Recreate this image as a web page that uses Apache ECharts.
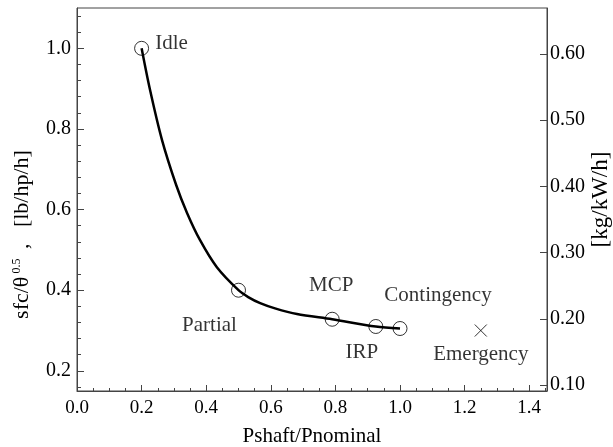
<!DOCTYPE html>
<html>
<head>
<meta charset="utf-8">
<script src="https://cdn.jsdelivr.net/npm/echarts@6/dist/echarts.min.js"></script>
<style>
  html, body { margin: 0; padding: 0; background: #fff; }
  #chart { width: 613px; height: 447px; }
</style>
</head>
<body>
<div id="chart"></div>
<script>
// Specific fuel consumption versus shaft power ratio
const curveX = [0.2, 0.226, 0.263, 0.307, 0.341, 0.381, 0.433, 0.5, 0.53, 0.567, 0.613, 0.681, 0.79, 0.925, 1.0];
const curveY = [1.0, 0.897, 0.773, 0.661, 0.591, 0.524, 0.457, 0.40, 0.383, 0.368, 0.355, 0.341, 0.328, 0.31, 0.305];

const ratingNames = ['Idle', 'Partial', 'MCP', 'IRP', 'Contingency'];
const ratingX = [0.2, 0.5, 0.79, 0.925, 1.0];
const ratingY = [1.0, 0.40, 0.328, 0.31, 0.305];

const emergencyName = 'Emergency';
const emergencyX = [1.25];
const emergencyY = [0.30];

// tick values
const leftTicks = [0.2, 0.4, 0.6, 0.8, 1.0];
const leftMinorTicks = [0.16, 0.24, 0.28, 0.32, 0.36, 0.44, 0.48, 0.52, 0.56, 0.64, 0.68, 0.72, 0.76,
                        0.84, 0.88, 0.92, 0.96, 1.04, 1.08];
const rightTicks = [0.1, 0.2, 0.3, 0.4, 0.5, 0.6];

// lb/hp/h -> kg/kW/h
const LB_HP_H_TO_KG_KW_H = 0.6083;
const yMin = 0.15, yMax = 1.1;

// label placement for each rating (pixel offsets from the marker)
const labelOffsets = {
  Idle: [30, -5], Partial: [-29, 35], MCP: [-1, -34],
  IRP: [-14, 26], Contingency: [38, -33], Emergency: [0, 24]
};

const FONT = '"Liberation Serif", "DejaVu Serif", serif';
const INK = '#000';
const AXIS = '#444';
const TICK_FS = 19;
const NAME_FS = 21;

const chart = echarts.init(document.getElementById('chart'), null, { renderer: 'canvas' });

function labelFor(name) {
  return {
    show: true, formatter: name, position: 'inside', offset: labelOffsets[name],
    color: INK, fontFamily: FONT, fontSize: NAME_FS
  };
}

const option = {
  animation: false,
  backgroundColor: '#fff',
  grid: {
    left: 77, right: 66, top: 8, bottom: 56,
    containLabel: false, outerBoundsMode: 'none',
    show: true, borderColor: AXIS, borderWidth: 1, backgroundColor: 'transparent'
  },
  xAxis: {
    type: 'value', min: 0, max: 1.455, interval: 0.2,
    name: 'Pshaft/Pnominal', nameLocation: 'middle', nameGap: 35,
    nameTextStyle: { fontFamily: FONT, fontSize: NAME_FS, color: INK },
    axisLine: { show: true, onZero: false, lineStyle: { color: AXIS, width: 1 } },
    axisTick: { show: true, inside: true, length: 6, lineStyle: { color: AXIS } },
    minorTick: { show: true, splitNumber: 4, length: 3, lineStyle: { color: AXIS } },
    axisLabel: {
      fontFamily: FONT, fontSize: TICK_FS, color: INK, margin: 8,
      showMaxLabel: false, formatter: v => v.toFixed(1)
    },
    splitLine: { show: false }, minorSplitLine: { show: false }
  },
  yAxis: [
    {
      type: 'value', min: yMin, max: yMax, position: 'left',
      name: '{a|sfc/θ}{s|0.5}{a| ,   [lb/hp/h]}', nameLocation: 'middle', nameGap: 44,
      nameRotate: 90, nameMoveOverlap: false,
      nameTextStyle: {
        color: INK,
        padding: [0, 70, 0, 0],
        rich: {
          a: { fontFamily: FONT, fontSize: 22, color: INK },
          s: { fontFamily: FONT, fontSize: 12, color: INK, verticalAlign: 'top', padding: [0, 4, 10, 3] }
        }
      },
      axisLine: { show: true, lineStyle: { color: AXIS, width: 1 } },
      axisTick: { show: true, inside: true, length: 7, customValues: leftTicks, lineStyle: { color: AXIS } },
      axisLabel: {
        fontFamily: FONT, fontSize: 20, color: INK, margin: 6,
        customValues: leftTicks, formatter: v => v.toFixed(1)
      },
      splitLine: { show: false }
    },
    {
      type: 'value', position: 'right',
      min: +(yMin * LB_HP_H_TO_KG_KW_H).toFixed(4),
      max: +(yMax * LB_HP_H_TO_KG_KW_H).toFixed(4),
      name: '[kg/kW/h]', nameLocation: 'middle', nameGap: 42, nameRotate: 90, nameMoveOverlap: false,
      nameTextStyle: { fontFamily: FONT, fontSize: 23, color: INK },
      axisLine: { show: true, lineStyle: { color: AXIS, width: 1 } },
      axisTick: { show: true, inside: true, length: 7, customValues: rightTicks, lineStyle: { color: AXIS } },
      axisLabel: {
        fontFamily: FONT, fontSize: 20, color: INK, margin: 3,
        customValues: rightTicks, formatter: v => v.toFixed(2)
      },
      splitLine: { show: false }
    },
    {
      // minor ticks of the left scale
      type: 'value', min: yMin, max: yMax, position: 'left',
      axisLine: { show: false },
      axisTick: { show: true, inside: true, length: 4, customValues: leftMinorTicks, lineStyle: { color: AXIS } },
      axisLabel: { show: false },
      splitLine: { show: false }
    }
  ],
  series: [
    {
      type: 'line', name: 'sfc', yAxisIndex: 0,
      data: curveX.map((x, i) => [x, curveY[i]]),
      smooth: 0.3, showSymbol: false,
      lineStyle: { color: INK, width: 2.5 }, z: 3
    },
    {
      type: 'scatter', name: 'ratings', yAxisIndex: 0,
      symbol: 'circle', symbolSize: 14,
      itemStyle: { color: 'rgba(0,0,0,0)', borderColor: INK, borderWidth: 1 },
      data: ratingNames.map((n, i) => ({ value: [ratingX[i], ratingY[i]], name: n, label: labelFor(n) })),
      z: 4
    },
    {
      type: 'scatter', name: 'emergency', yAxisIndex: 0,
      symbol: 'path://M0,0L10,10M10,0L0,10', symbolSize: 12,
      itemStyle: { color: 'rgba(0,0,0,0)', borderColor: INK, borderWidth: 1 },
      data: emergencyX.map((x, i) => ({ value: [x, emergencyY[i]], name: emergencyName, label: labelFor(emergencyName) })),
      z: 4
    }
  ]
};

chart.setOption(option);
</script>
</body>
</html>
